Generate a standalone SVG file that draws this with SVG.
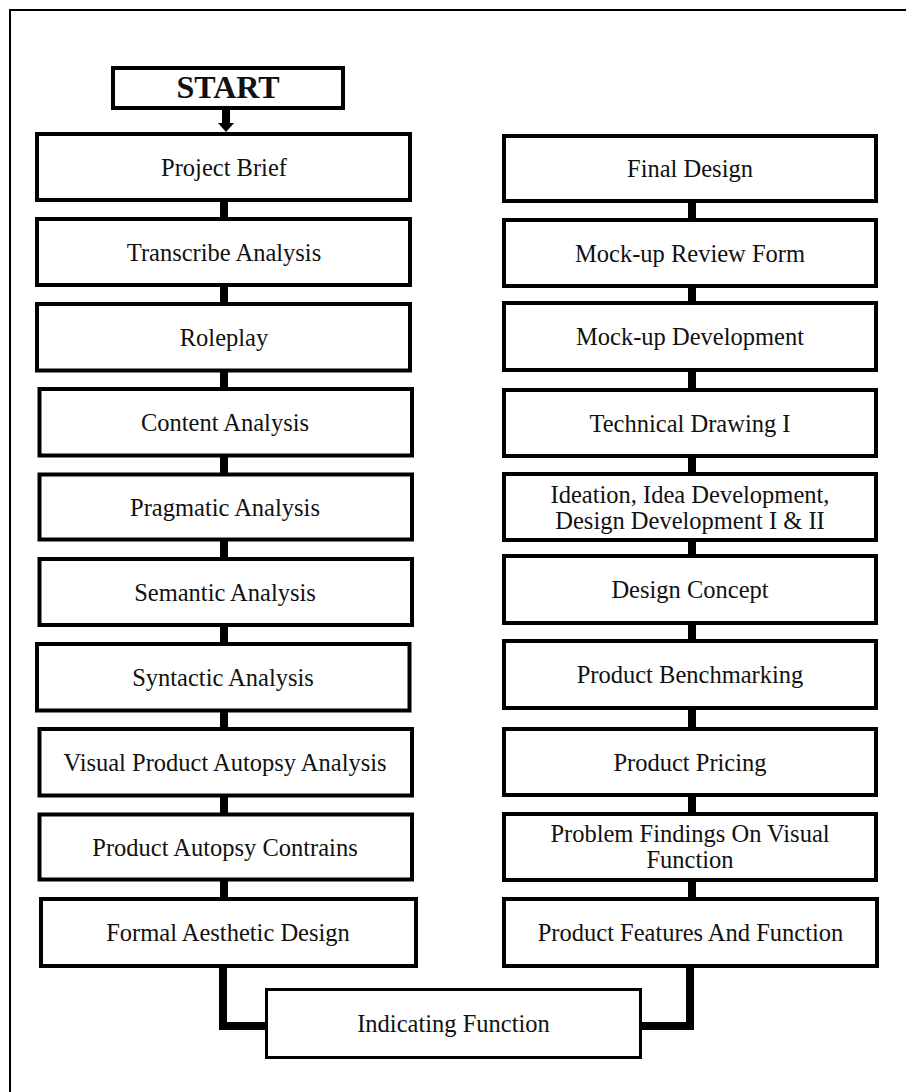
<svg xmlns="http://www.w3.org/2000/svg" width="906" height="1092" viewBox="0 0 906 1092">
<style>
.box{fill:#fff;stroke:#000;stroke-width:4}
.ibox{fill:#fff;stroke:#000;stroke-width:3}
.t{font-family:"Liberation Serif","Times New Roman",serif;font-size:24.5px;fill:#111;text-anchor:middle}
.st{font-family:"Liberation Serif","Times New Roman",serif;font-size:32px;font-weight:bold;fill:#111;text-anchor:middle}
.c{stroke:#000;stroke-width:8;fill:none}
</style>
<rect width="906" height="1092" fill="#fff"/>
<path d="M10,1092 V10 H906" fill="none" stroke="#000" stroke-width="2"/>

<g id="connectors">
  <line class="c" x1="226" y1="110" x2="226" y2="124"/>
  <polygon points="218,123 234,123 226,132" fill="#000"/>
  <line class="c" x1="224" y1="202" x2="224" y2="217"/>
  <line class="c" x1="224" y1="287" x2="224" y2="302"/>
  <line class="c" x1="224" y1="372" x2="224" y2="387"/>
  <line class="c" x1="224" y1="457" x2="224" y2="473"/>
  <line class="c" x1="224" y1="541" x2="224" y2="557"/>
  <line class="c" x1="224" y1="627" x2="224" y2="642"/>
  <line class="c" x1="224" y1="712" x2="224" y2="727"/>
  <line class="c" x1="224" y1="797" x2="224" y2="813"/>
  <line class="c" x1="224" y1="881" x2="224" y2="897"/>
  <line class="c" x1="692" y1="203" x2="692" y2="218"/>
  <line class="c" x1="692" y1="288" x2="692" y2="301"/>
  <line class="c" x1="692" y1="372" x2="692" y2="388"/>
  <line class="c" x1="692" y1="458" x2="692" y2="472"/>
  <line class="c" x1="692" y1="542" x2="692" y2="554"/>
  <line class="c" x1="692" y1="625" x2="692" y2="639"/>
  <line class="c" x1="692" y1="710" x2="692" y2="727"/>
  <line class="c" x1="692" y1="797" x2="692" y2="812"/>
  <line class="c" x1="692" y1="882" x2="692" y2="897"/>
  <path class="c" d="M223,968 V1026 H266"/>
  <path class="c" d="M690,968 V1026 H641"/>
</g>

<g id="start"><rect class="box" x="113" y="68" width="230" height="40"/><text class="st" x="228" y="98">START</text></g>

<g id="project-brief"><rect class="box" x="37" y="134" width="373" height="66"/><text class="t" x="224" y="175.5">Project Brief</text></g>
<g id="transcribe-analysis"><rect class="box" x="37" y="219" width="373" height="66"/><text class="t" x="224" y="260.5">Transcribe Analysis</text></g>
<g id="roleplay"><rect class="box" x="37" y="304" width="373" height="66.5"/><text class="t" x="224" y="345.5">Roleplay</text></g>
<g id="content-analysis"><rect class="box" x="39.5" y="389" width="372.5" height="66.5"/><text class="t" x="225" y="430.5">Content Analysis</text></g>
<g id="pragmatic-analysis"><rect class="box" x="39.5" y="474.5" width="372.5" height="65"/><text class="t" x="225" y="515.5">Pragmatic Analysis</text></g>
<g id="semantic-analysis"><rect class="box" x="39.5" y="559" width="372.5" height="66"/><text class="t" x="225" y="600.5">Semantic Analysis</text></g>
<g id="syntactic-analysis"><rect class="box" x="37" y="644" width="372.5" height="66.5"/><text class="t" x="223" y="685.5">Syntactic Analysis</text></g>
<g id="visual-product-autopsy-analysis"><rect class="box" x="39.5" y="729" width="372.5" height="66.5"/><text class="t" x="225" y="770.5">Visual Product Autopsy Analysis</text></g>
<g id="product-autopsy-contrains"><rect class="box" x="39.5" y="814.5" width="372.5" height="65"/><text class="t" x="225" y="855.5">Product Autopsy Contrains</text></g>
<g id="formal-aesthetic-design"><rect class="box" x="41" y="899" width="375" height="67"/><text class="t" x="228" y="941">Formal Aesthetic Design</text></g>

<g id="final-design"><rect class="box" x="504" y="136" width="372" height="65"/><text class="t" x="690" y="177">Final Design</text></g>
<g id="mock-up-review-form"><rect class="box" x="504" y="220" width="372" height="66"/><text class="t" x="690" y="261.5">Mock-up Review Form</text></g>
<g id="mock-up-development"><rect class="box" x="504" y="303" width="372" height="67"/><text class="t" x="690" y="345">Mock-up Development</text></g>
<g id="technical-drawing-i"><rect class="box" x="504" y="390" width="372" height="66"/><text class="t" x="690" y="431.5">Technical Drawing I</text></g>
<g id="ideation"><rect class="box" x="504" y="474" width="372" height="66"/><text class="t" x="690" y="503">Ideation, Idea Development,</text><text class="t" x="690" y="529">Design Development  I &amp; II</text></g>
<g id="design-concept"><rect class="box" x="504" y="556" width="372" height="67"/><text class="t" x="690" y="598">Design Concept</text></g>
<g id="product-benchmarking"><rect class="box" x="504" y="641" width="372" height="67"/><text class="t" x="690" y="683">Product Benchmarking</text></g>
<g id="product-pricing"><rect class="box" x="504" y="729" width="372" height="66"/><text class="t" x="690" y="770.5">Product Pricing</text></g>
<g id="problem-findings"><rect class="box" x="504" y="814" width="372" height="66"/><text class="t" x="690" y="842">Problem Findings On Visual</text><text class="t" x="690" y="868">Function</text></g>
<g id="product-features-and-function"><rect class="box" x="504" y="899" width="373" height="67"/><text class="t" x="690.5" y="941">Product Features And Function</text></g>

<g id="indicating-function"><rect class="ibox" x="266.5" y="989.5" width="374" height="68"/><text class="t" x="453.5" y="1032">Indicating Function</text></g>
</svg>
